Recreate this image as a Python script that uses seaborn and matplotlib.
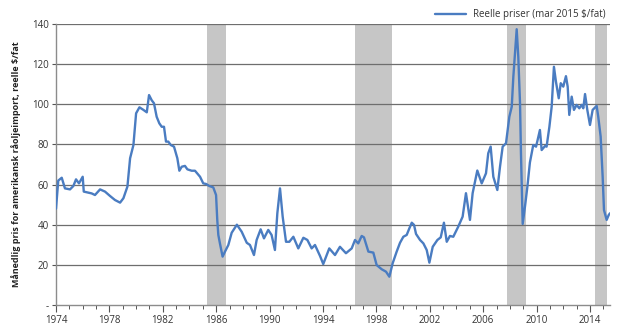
import matplotlib
matplotlib.use("Agg")
import matplotlib.pyplot as plt
import seaborn as sns
import pandas as pd
from matplotlib.ticker import MultipleLocator, FixedLocator

years = [1974.0, 1974.17, 1974.43, 1974.67, 1975.05, 1975.3, 1975.5, 1975.72, 1976.0, 1976.08,
         1976.67, 1976.92, 1977.3, 1977.67, 1978.05, 1978.42, 1978.8, 1979.05, 1979.35, 1979.55,
         1979.8, 1980.0, 1980.25, 1980.55, 1980.8, 1980.97, 1981.17, 1981.34, 1981.54, 1981.74,
         1981.92, 1982.09, 1982.24, 1982.41, 1982.6, 1982.84, 1983.09, 1983.24, 1983.42, 1983.66,
         1983.84, 1984.16, 1984.41, 1984.79, 1985.03, 1985.24, 1985.48, 1985.78, 1985.99, 1986.08,
         1986.16, 1986.28, 1986.48, 1986.66, 1986.91, 1987.16, 1987.55, 1987.91, 1988.29, 1988.53,
         1988.83, 1989.03, 1989.33, 1989.58, 1989.9, 1990.15, 1990.4, 1990.58, 1990.78, 1990.98,
         1991.23, 1991.48, 1991.78, 1992.15, 1992.53, 1992.83, 1993.15, 1993.4, 1993.78, 1994.02,
         1994.47, 1994.9, 1995.27, 1995.72, 1996.15, 1996.4, 1996.64, 1996.9, 1997.07, 1997.4,
         1997.77, 1998.02, 1998.4, 1998.72, 1998.97, 1999.22, 1999.52, 1999.77, 2000.02, 2000.27,
         2000.47, 2000.65, 2000.82, 2000.97, 2001.27, 2001.52, 2001.77, 2001.97, 2002.22, 2002.57,
         2002.82, 2003.06, 2003.27, 2003.51, 2003.76, 2004.13, 2004.46, 2004.71, 2005.01, 2005.21,
         2005.56, 2005.89, 2006.21, 2006.38, 2006.56, 2006.76, 2007.06, 2007.26, 2007.46, 2007.71,
         2007.96, 2008.14, 2008.26, 2008.38, 2008.51, 2008.63, 2008.76, 2008.83, 2008.96, 2009.13,
         2009.31, 2009.5, 2009.75, 2009.96, 2010.05, 2010.25, 2010.38, 2010.63, 2010.75, 2010.96,
         2011.13, 2011.3, 2011.45, 2011.66, 2011.81, 2012.0, 2012.2, 2012.33, 2012.45, 2012.63,
         2012.8, 2013.0, 2013.2, 2013.38, 2013.5, 2013.63, 2013.8, 2014.0, 2014.2, 2014.5,
         2014.62, 2014.8, 2014.95, 2015.05, 2015.25, 2015.4, 2015.5]

prices = [48, 62, 63.4, 58.1, 57.6, 59.3, 62.6, 60.6, 63.9, 56.5,
          55.6, 54.8, 57.6, 56.5, 54.3, 52.3, 51.0, 53.2, 59, 73.1,
          79.7, 95.5, 98.5, 97.2, 96, 104.6, 102, 100.5, 93.8, 90.5,
          88.8, 88.8, 81.4, 81.4, 79.7, 78.9, 73.1, 66.9, 68.9, 69.3,
          67.6, 66.9, 66.9, 63.9, 60.6, 60.3, 59.3, 58.6, 54.8, 42.4,
          34.9, 30.7, 24.1, 26.6, 29.9, 36, 40, 36.5, 31, 29.9,
          24.9, 32.4, 37.7, 33.2, 37.4, 34.9, 27.4, 45.7, 58.1, 44,
          31.5, 31.5, 34, 28.2, 33.5, 32.4, 28.2, 29.9, 24.4, 20.4,
          28.2, 24.9, 29, 25.8, 28.2, 32.4, 30.7, 34.4, 33.7, 26.6,
          26.1, 19.9, 17.8, 16.6, 14.1, 20.8, 26.6, 31, 34, 34.9,
          38.2, 41, 39.9, 35.4, 32.4, 30.7, 27.4, 21.1, 29, 32.4,
          33.7, 41, 31.5, 34.4, 34, 39, 44, 55.7, 42.4, 55.7,
          67, 60.6, 65.6, 75.6, 78.9, 63.9, 57.3, 68.9, 78.9, 80.6,
          93.8, 98.8, 113.8, 125.4, 137.4, 123.7, 100.5, 75.6, 40.4, 49,
          58.9, 71, 79.7, 78.9, 81.4, 87.2, 77.2, 79.2, 78.9, 88.8,
          98.8, 118.7, 111.3, 103, 110.5, 108.8, 114, 108.8, 94.7, 103.8,
          97.2, 99.7, 98, 99.7, 98, 105.1, 97.2, 89.7, 97.2, 99.2,
          93.8, 83.9, 63.9, 47.3, 42.4, 44.8, 45.7]

band_starts = [1985.31, 1996.42, 2007.78, 2014.35]
band_ends = [1986.73, 1999.15, 2009.23, 2015.3]

major_ticks = list(range(1974, 2015, 4))
ytick_values = [0, 20, 40, 60, 80, 100, 120, 140]
ytick_labels = ["-", "20", "40", "60", "80", "100", "120", "140"]

series_label = "Reelle priser (mar 2015 $/fat)"
ylabel = "Månedlig pris for amerikansk råoljeimport, reelle $/fat"

sns.set_style("white")
plt.rcParams['font.family'] = ['Open Sans', 'DejaVu Sans']

df = pd.DataFrame({"year": years, "price": prices})

fig = plt.figure(figsize=(6.23, 3.31), dpi=100)
ax = fig.add_axes([56 / 623, 1 - 305 / 331, (610 - 56) / 623, (305 - 24) / 331])

for s, e in zip(band_starts, band_ends):
    ax.axvspan(s, e, color="#c6c6c6", lw=0, zorder=1)

for v in ytick_values[1:]:
    ax.axhline(v, color="#6e6e6e", lw=0.9, zorder=2)

sns.lineplot(data=df, x="year", y="price", ax=ax, color="#4a7cc1", lw=1.7,
             estimator=None, label=series_label, zorder=3)

ax.set_xlim(1974, 2015.5)
ax.set_ylim(0, 140)
ax.xaxis.set_major_locator(FixedLocator(major_ticks))
ax.xaxis.set_minor_locator(MultipleLocator(1))
ax.set_xticklabels([str(t) for t in major_ticks])
ax.set_yticks(ytick_values)
ax.set_yticklabels(ytick_labels)

for sp in ["top", "right"]:
    ax.spines[sp].set_visible(False)
for sp in ["left", "bottom"]:
    ax.spines[sp].set_color("#8c8c8c")
    ax.spines[sp].set_linewidth(1.0)

ax.tick_params(axis="x", which="major", length=5, width=0.8, color="#555555",
               labelsize=7, labelcolor="#333333", pad=2, direction="out", bottom=True)
ax.tick_params(axis="x", which="minor", length=3, width=0.7, color="#555555", bottom=True)
ax.tick_params(axis="y", which="major", length=3, width=0.8, color="#555555",
               labelsize=7, labelcolor="#333333", pad=2, left=True)

ax.set_xlabel("")
ax.set_ylabel(ylabel, fontsize=6.5, fontweight="bold", color="#222222", labelpad=8)

leg = ax.legend(loc="lower right", bbox_to_anchor=(1.0, 1.0), frameon=False,
                fontsize=7, handlelength=3.2, borderaxespad=0.2, borderpad=0.2,
                labelcolor="#333333")

fig.savefig("out.png", dpi=100)
